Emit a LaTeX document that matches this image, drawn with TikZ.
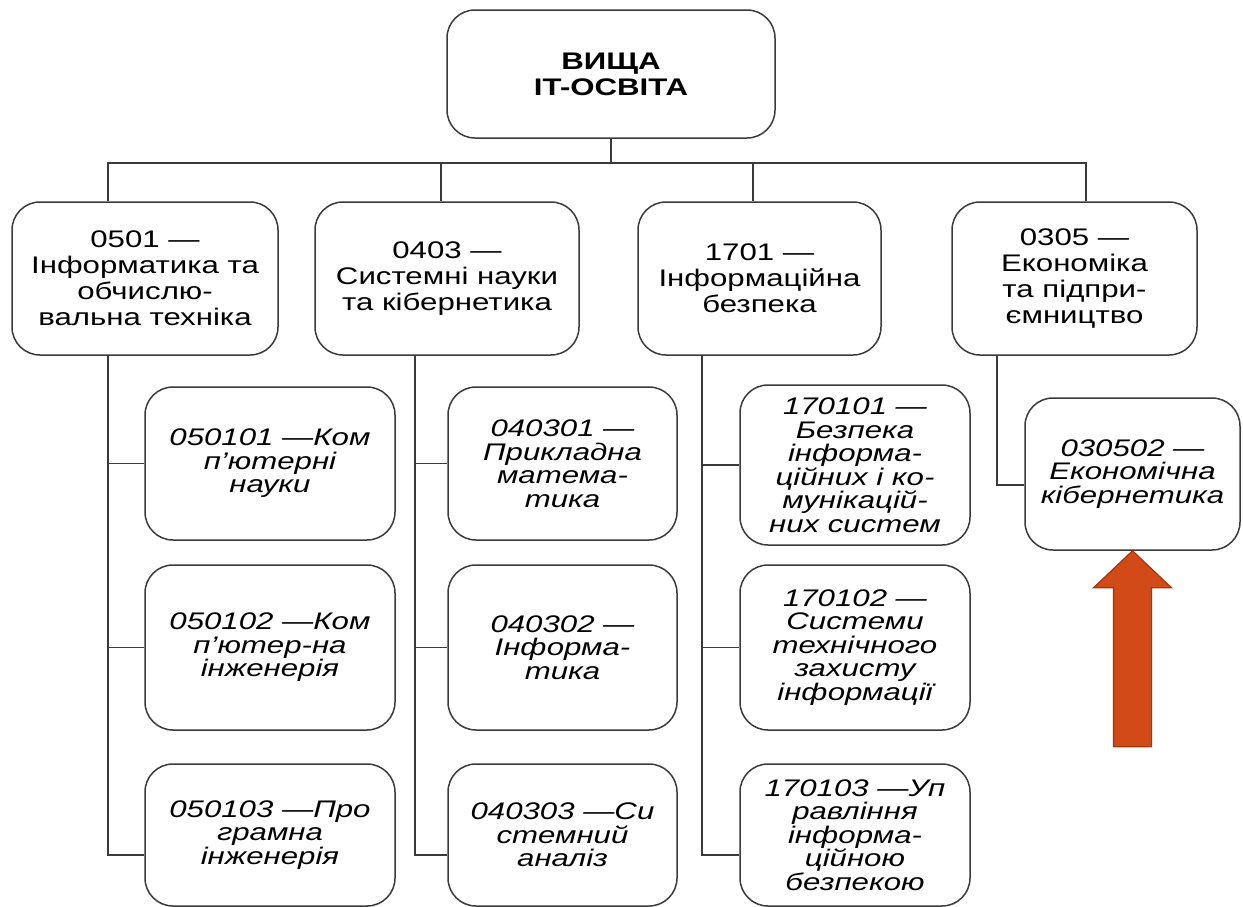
\documentclass[tikz,border=0pt]{standalone}
\usepackage{fontspec}
\setmainfont{Liberation Sans}[FakeStretch=1.3]
\usepackage{tikz}

\definecolor{linegray}{RGB}{58,58,58}
\definecolor{arrowfill}{RGB}{209,74,23}
\definecolor{arrowedge}{RGB}{160,56,20}

\tikzset{
  itbox/.style={draw=linegray, line width=1.5pt, rounded corners=28pt, align=center, inner sep=0pt},
  topbox/.style={itbox, font=\fontsize{24}{26}\selectfont\bfseries},
  catbox/.style={itbox, minimum height=153pt, font=\fontsize{24}{26}\selectfont},
  subbox/.style={itbox, font=\fontsize{24}{23.5}\selectfont\itshape},
  link/.style={draw=linegray, line width=1.4pt},
  bigarrow/.style={fill=arrowfill, draw=arrowedge, line width=1.2pt, line join=miter}
}

\begin{document}
\begin{tikzpicture}[x=1pt,y=-1pt]
    \useasboundingbox (0,0) rectangle (1243,906);

    \node[topbox, minimum width=328pt, minimum height=128pt] (root) at (611,74) {ВИЩА\\IT-ОСВІТА};

    % directions
    \node[catbox, minimum width=266pt] (cat1) at (145,278.5) {0501 —\\Інформатика та\\обчислю-\\вальна техніка};
    \node[catbox, minimum width=264pt] (cat2) at (447,278.5) {0403 —\\Системні науки\\та кібернетика};
    \node[catbox, minimum width=243pt] (cat3) at (759.5,278.5) {1701 —\\Інформаційна\\безпека};
    \node[catbox, minimum width=245pt] (cat4) at (1074.5,278.5) {0305 —\\Економіка\\та підпри-\\ємництво};

    % specialities
    \node[subbox, minimum width=250pt, minimum height=153pt] (c11) at (270,463.5) {050101 —Ком\\п’ютерні\\науки};
    \node[subbox, minimum width=250pt, minimum height=165pt] (c12) at (270,647.5) {050102 —Ком\\п’ютер-на\\інженерія};
    \node[subbox, minimum width=250pt, minimum height=142pt] (c13) at (270,835) {050103 —Про\\грамна\\інженерія};

    \node[subbox, minimum width=229pt, minimum height=153pt] (c21) at (562.5,463.5) {040301 —\\Прикладна\\матема-\\тика};
    \node[subbox, minimum width=229pt, minimum height=165pt] (c22) at (562.5,647.5) {040302 —\\Інформа-\\тика};
    \node[subbox, minimum width=229pt, minimum height=142pt] (c23) at (562.5,835) {040303 —Си\\стемний\\аналіз};

    \node[subbox, minimum width=230pt, minimum height=160pt] (c31) at (855,465) {170101 —\\Безпека\\інформа-\\ційних і ко-\\мунікацій-\\них систем};
    \node[subbox, minimum width=230pt, minimum height=165pt] (c32) at (855,647.5) {170102 —\\Системи\\технічного\\захисту\\інформації};
    \node[subbox, minimum width=230pt, minimum height=142pt] (c33) at (855,835) {170103 —Уп\\равління\\інформа-\\ційною\\безпекою};

    \node[subbox, minimum width=215pt, minimum height=152pt] (c41) at (1132.5,474) {030502 —\\Економічна\\кібернетика};

    % trunk
    \coordinate (bus) at (611,163);
    \draw[link] (root.south) -- (bus);
    \draw[link] (bus) -| ([xshift=-37pt]cat1.north);
    \draw[link] (bus) -| ([xshift=-6pt]cat2.north);
    \draw[link] (bus) -| ([xshift=-6.5pt]cat3.north);
    \draw[link] (bus) -| ([xshift=11.5pt]cat4.north);

    % branches
    \draw[link] ([xshift=-37pt]cat1.south) |- (c11.west);
    \draw[link] ([xshift=-37pt]cat1.south) |- (c12.west);
    \draw[link] ([xshift=-37pt]cat1.south) |- ([yshift=-20pt]c13.west);

    \draw[link] ([xshift=-32pt]cat2.south) |- (c21.west);
    \draw[link] ([xshift=-32pt]cat2.south) |- (c22.west);
    \draw[link] ([xshift=-32pt]cat2.south) |- ([yshift=-20pt]c23.west);

    \draw[link] ([xshift=-57.5pt]cat3.south) |- (c31.west);
    \draw[link] ([xshift=-57.5pt]cat3.south) |- (c32.west);
    \draw[link] ([xshift=-57.5pt]cat3.south) |- ([yshift=-20pt]c33.west);

    \draw[link] ([xshift=-77.5pt]cat4.south) |- ([yshift=-11pt]c41.west);

    % pointer
    \draw[bigarrow] (c41.south) -- ++(39,37) -- ++(-20,0) -- ++(0,159) -- ++(-38,0) -- ++(0,-159) -- ++(-20,0) -- cycle;
\end{tikzpicture}
\end{document}
